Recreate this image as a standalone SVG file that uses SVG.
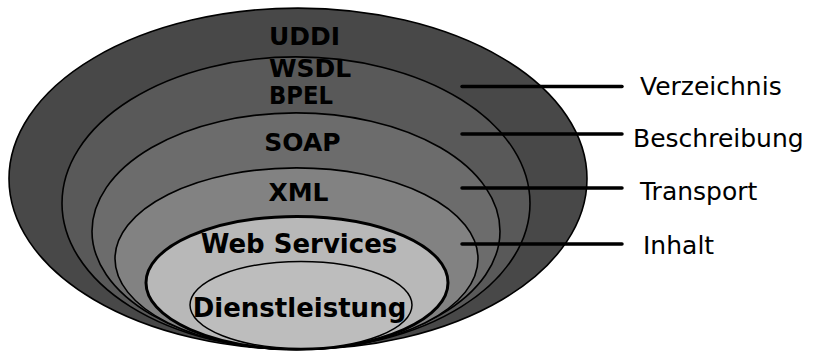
<svg xmlns="http://www.w3.org/2000/svg" width="816" height="352" viewBox="0 0 816 352">
  <style>
    .ring { stroke: #000; stroke-width: 1.6; }
    .bold { font-family: "DejaVu Sans", Verdana, sans-serif; font-weight: bold; fill: #000; }
    .lbl { font-family: "DejaVu Sans", Verdana, sans-serif; font-size: 25px; fill: #000; }
    .conn { stroke: #000; stroke-width: 3.5; stroke-linecap: round; fill: none; }
  </style>
  <rect width="816" height="352" fill="#fff"/>
  <g id="verzeichnis-ring">
    <ellipse class="ring" cx="298" cy="178.8" rx="289" ry="170.7" fill="#484848"/>
    <text class="bold" x="269" y="45" font-size="25">UDDI</text>
  </g>
  <g id="beschreibung-ring">
    <ellipse class="ring" cx="296" cy="203.2" rx="234" ry="146.3" fill="#595959"/>
    <text class="bold" x="269" y="77" font-size="25">WSDL</text>
    <text class="bold" x="269" y="104" font-size="25" textLength="64" lengthAdjust="spacingAndGlyphs">BPEL</text>
  </g>
  <g id="transport-ring">
    <ellipse class="ring" cx="296" cy="231.2" rx="204" ry="118.3" fill="#6c6c6c"/>
    <text class="bold" x="302.5" y="151" font-size="25" text-anchor="middle">SOAP</text>
  </g>
  <g id="inhalt-ring">
    <ellipse class="ring" cx="296.5" cy="258.7" rx="181.5" ry="90.8" fill="#828282"/>
    <text class="bold" x="298.5" y="201" font-size="25" text-anchor="middle">XML</text>
  </g>
  <g id="web-services">
    <ellipse cx="297" cy="282.7" rx="151" ry="66.3" fill="#b8b8b8" stroke="#000" stroke-width="3"/>
    <text class="bold" x="299" y="253" font-size="26" text-anchor="middle">Web Services</text>
  </g>
  <g id="dienstleistung">
    <ellipse cx="301" cy="305" rx="111" ry="43.5" fill="#bdbdbd" stroke="#000" stroke-width="1.5"/>
    <text class="bold" x="299.5" y="317" font-size="26" text-anchor="middle">Dienstleistung</text>
  </g>
  <g id="connectors">
    <line class="conn" x1="462" y1="86.5" x2="622" y2="86.5"/>
    <line class="conn" x1="462" y1="134" x2="622" y2="134"/>
    <line class="conn" x1="462" y1="188" x2="622" y2="188"/>
    <line class="conn" x1="462" y1="244" x2="622" y2="244"/>
  </g>
  <g id="labels">
    <text class="lbl" x="640" y="95">Verzeichnis</text>
    <text class="lbl" x="633" y="147">Beschreibung</text>
    <text class="lbl" x="640" y="200">Transport</text>
    <text class="lbl" x="643" y="254">Inhalt</text>
  </g>
</svg>
